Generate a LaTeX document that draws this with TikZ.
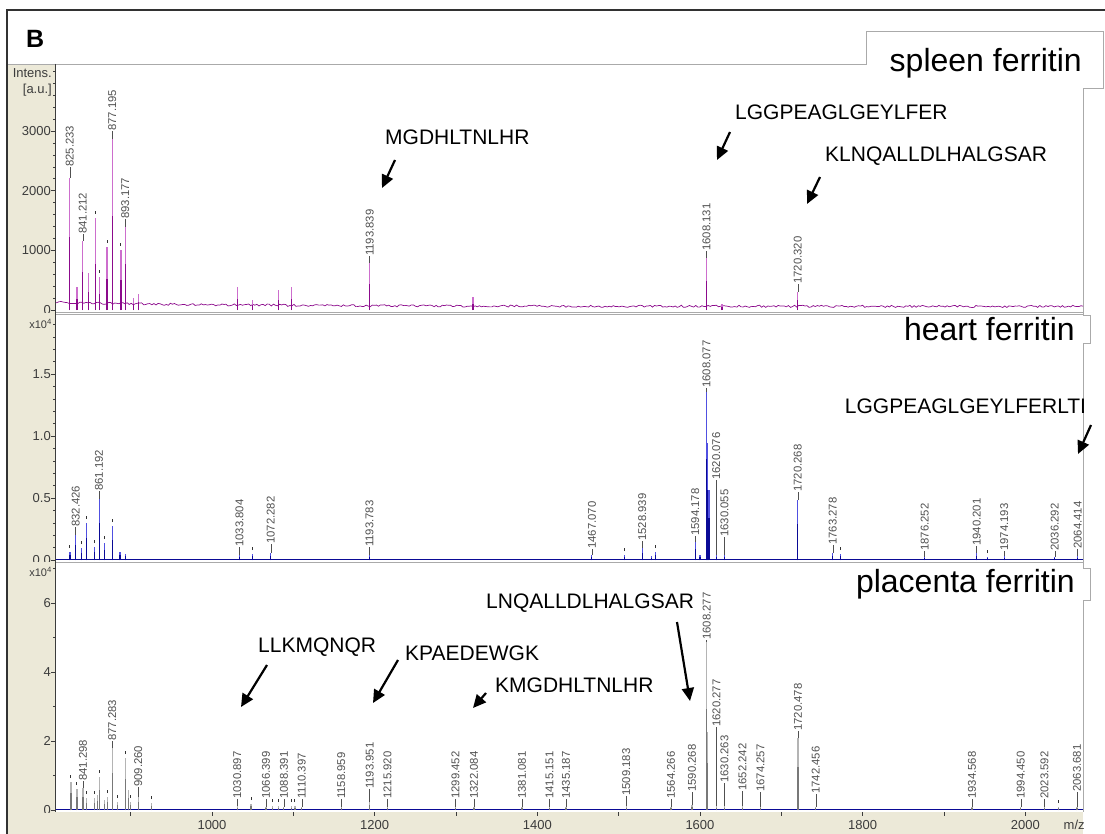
\documentclass[tikz,border=0pt]{standalone}
\usepackage{fontspec}
\setmainfont{Liberation Sans}[Ligatures=TeX]
\usetikzlibrary{arrows.meta}

\definecolor{gutter}{RGB}{236,233,216}
\definecolor{framegray}{RGB}{50,50,50}
\definecolor{tabgray}{RGB}{170,170,170}
\definecolor{axgray}{RGB}{60,60,60}
\definecolor{labgray}{RGB}{80,80,80}
\definecolor{spAdark}{RGB}{140,10,140}
\definecolor{spAlight}{RGB}{205,110,205}
\definecolor{spBdark}{RGB}{10,10,150}
\definecolor{spBlight}{RGB}{80,80,225}
\definecolor{spCdark}{RGB}{120,120,120}
\definecolor{spClight}{RGB}{180,180,180}

\newcommand{\pkfont}{\fontsize{11.3}{12}\selectfont}
\newcommand{\pepfont}{\fontsize{21}{24}\selectfont}
\newcommand{\tabfont}{\fontsize{32}{36}\selectfont}
\newcommand{\axfont}{\fontsize{13}{15}\selectfont}
\newcommand{\panelfont}{\fontsize{25}{28}\selectfont\bfseries}

\tikzset{
  pkline/.style={line width=1.2pt},
  pklab/.style={rotate=90, anchor=west, inner sep=0pt, font=\pkfont, text=labgray},
  leader/.style={labgray, line width=0.5pt},
  pkmark/.style={black!80, line width=1pt},
  pepname/.style={anchor=base west, inner sep=0pt, font=\pepfont},
  peparrow/.style={line width=2.2pt, -{Triangle[width=12pt,length=13pt]}},
  tabname/.style={anchor=base east, inner sep=0pt, font=\tabfont},
  tabline/.style={tabgray, line width=0.8pt},
  axlab/.style={anchor=east, inner sep=0pt, font=\axfont, text=axgray},
  xlab/.style={anchor=center, inner sep=0pt, font=\axfont, text=axgray},
  mz/.style={x=0.8133pt, xshift=-601.3pt}
}

\begin{document}
\begin{tikzpicture}[x=1pt,y=-1pt]
\useasboundingbox (0,0) rectangle (1105,834);
\fill[white] (0,0) rectangle (1105,834);
% gutter, frame and tabs
\fill[gutter] (8,64) rectangle (55,834);
\fill[gutter] (55,812) rectangle (1083,834);
\draw[framegray, line width=2pt] (7,834) -- (7,10) -- (1105,10);
\node[font=\panelfont, anchor=base west, inner sep=0pt] (panelB) at (26,48) {B};
\draw[tabline] (8,64) -- (866,64) -- (866,31) -- (1103,31) -- (1103,88) -- (1083,88) -- (1083,812);
\node[tabname] (spleen) at (1082,72) {spleen ferritin};

% spleen spectrum
\begin{scope}[mz, y=1pt, yshift=-310pt]
\clip (807,0) rectangle (2071,246);
\pgfmathsetseed{7}
\draw[spAdark, line width=0.7pt] plot[domain=807:2071, samples=500, variable=\t] (\t,{2.5+4*exp(-(\t-807)/220)+2.2*rnd});
\foreach \m/\h in {834/23, 848/37, 857/92, 862/33, 871/63, 888/60, 903/12, 910/16, 1031/23, 1050/10, 1082/20, 1098/23, 1321/13, 1627/6}{
  \draw[spAlight, pkline] (\m,0) -- (\m,\h);
  \draw[spAdark, pkline] (\m,0) -- (\m,{0.5*\h});
}
\foreach \m/\h in {857/92, 862/33, 871/63, 888/60}
  \draw[pkmark] (\m,\h+4) -- (\m,\h+7);
\foreach \m/\h/\lb [count=\i] in {825.233/132/143, 841.212/69/76, 877.195/171/179, 893.177/83/91, 1193.839/47/54, 1608.131/52/59, 1720.320/18/26}{
  \draw[spAlight, pkline] (\m,0) -- (\m,\h);
  \draw[spAdark, pkline] (\m,0) -- (\m,{0.55*\h});
  \draw[leader] (\m,\h) -- (\m,\lb);
  \node[pklab] (spA\i) at (\m,\lb) {\m};
}
\end{scope}

% heart spectrum
\fill[white] (895,315) rectangle (1090,343);
\draw[tabline] (1083,315) -- (1090,315) -- (1090,343) -- (1083,343);
\node[tabname] (heart) at (1075,340) {heart ferritin};
\begin{scope}[mz, y=1pt, yshift=-560pt]
\clip (807,0) rectangle (2071,247);
\draw[spBdark, line width=1.4pt] (807,0.5) -- (2071,0.5);
\foreach \m/\h in {825.4/8, 840/12, 846/37, 856/13, 868/17, 878/34, 887/8, 894/6, 1050/6, 1507/5, 1540/4, 1545/8, 1600/5, 1773/6, 1954/3, 1609.5/117, 1611/70}{
  \draw[spBlight, pkline] (\m,0) -- (\m,\h);
  \draw[spBdark, pkline] (\m,0) -- (\m,{0.6*\h});
}
\foreach \m/\h in {825.4/8, 840/12, 846/37, 856/13, 868/17, 878/34, 1050/6, 1507/5, 1545/8, 1773/6, 1954/3}
  \draw[pkmark] (\m,\h+4) -- (\m,\h+7);
\foreach \m/\h/\lb [count=\i] in {832.426/25/33, 861.192/61/69, 1033.804/5/13, 1072.282/7/16, 1193.783/5/13, 1467.070/5/11, 1528.939/12/19, 1594.178/18/24, 1608.077/168/172, 1620.076/5/80, 1630.055/5/23, 1720.268/60/68, 1763.278/7/15, 1876.252/3/9, 1940.201/7/14, 1974.193/4/9, 2036.292/3/9, 2064.414/4/11}{
  \draw[spBlight, pkline] (\m,0) -- (\m,\h);
  \draw[spBdark, pkline] (\m,0) -- (\m,{0.6*\h});
  \draw[leader] (\m,\h) -- (\m,\lb);
  \node[pklab] (spB\i) at (\m,\lb) {\m};
}
\node[pepname] (lggpk) at (1778,147) {LGGPEAGLGEYLFERLTLK};
\end{scope}

% placenta spectrum
\fill[white] (845,568) rectangle (1090,600);
\draw[tabline] (1083,568) -- (1090,568) -- (1090,600) -- (1083,600);
\node[tabname] (placenta) at (1075,592) {placenta ferritin};
\begin{scope}[mz, y=1pt, yshift=-810pt]
\clip (807,0) rectangle (2071,248);
\draw[spBdark, line width=1.4pt] (807,0.5) -- (2071,0.5);
\draw[spBdark, line width=1.4pt] (807.8,0) -- (807.8,187);
\foreach \m/\h in {826.6/28, 834/21, 846/12, 856/12, 859/15, 862/33, 868/10, 872/13, 884/8, 894/52, 897/20, 900/8, 926/7, 1048/6, 1074/4, 1082/4, 1098/4, 1102/4, 2041/3, 1609.5/78, 1721.5/30}{
  \draw[spClight, pkline] (\m,0) -- (\m,\h);
  \draw[spCdark, pkline] (\m,0) -- (\m,{0.6*\h});
}
\foreach \m/\h in {826.6/28, 834/21, 846/12, 856/12, 862/33, 872/13, 884/8, 894/52, 900/8, 926/7, 1048/6, 1074/4, 1082/4, 1098/4, 1102/4, 2041/3}
  \draw[pkmark] (\m,\h+4) -- (\m,\h+7);
\foreach \m/\h/\lb [count=\i] in {841.298/22/29, 877.283/62/69, 909.260/13/23, 1030.897/4/11, 1066.399/3/11, 1088.391/3/11, 1110.397/3/11, 1158.959/3/11, 1193.951/8/21, 1215.920/3/11, 1299.452/3/11, 1322.084/3/11, 1381.081/3/11, 1415.151/3/11, 1435.187/3/11, 1509.183/4/14, 1564.266/3/11, 1590.268/5/18, 1608.277/168/170, 1620.277/4/83, 1630.263/4/27, 1652.242/4/19, 1674.257/3/18, 1720.478/72/79, 1742.456/3/16, 1934.568/3/11, 1994.450/3/11, 2023.592/3/11, 2063.681/3/18}{
  \draw[spClight, pkline] (\m,0) -- (\m,\h);
  \draw[spCdark, pkline] (\m,0) -- (\m,{0.6*\h});
  \draw[leader] (\m,\h) -- (\m,\lb);
  \node[pklab] (spC\i) at (\m,\lb) {\m};
}
\end{scope}

% panel separators
\draw[tabgray, line width=1pt] (55,312) -- (1083,312);
\draw[tabgray, line width=1pt] (55,314.5) -- (1083,314.5);
\draw[tabgray, line width=1pt] (55,562.5) -- (1083,562.5);

% peptide annotations
\node[pepname] (mgd) at (385,145) {MGDHLTNLHR};
\coordinate (mgd-s) at (395,160); \coordinate (mgd-e) at (382,188);
\draw[peparrow] (mgd-s) -- (mgd-e);
\node[pepname] (lgg) at (735,120) {LGGPEAGLGEYLFER};
\coordinate (lgg-s) at (730,132); \coordinate (lgg-e) at (717,160);
\draw[peparrow] (lgg-s) -- (lgg-e);
\node[pepname] (kln) at (825,162) {KLNQALLDLHALGSAR};
\coordinate (kln-s) at (820,177); \coordinate (kln-e) at (807,204);
\draw[peparrow] (kln-s) -- (kln-e);
\coordinate (lggpk-s) at (1091,425); \coordinate (lggpk-e) at (1078,454);
\draw[peparrow] (lggpk-s) -- (lggpk-e);
\node[pepname] (llk) at (258,652) {LLKMQNQR};
\coordinate (llk-s) at (267,665); \coordinate (llk-e) at (241,707);
\draw[peparrow] (llk-s) -- (llk-e);
\node[pepname] (kpa) at (405,660) {KPAEDEWGK};
\coordinate (kpa-s) at (398,660); \coordinate (kpa-e) at (373,703);
\draw[peparrow] (kpa-s) -- (kpa-e);
\node[pepname] (kmg) at (495,692) {KMGDHLTNLHR};
\coordinate (kmg-s) at (486,693); \coordinate (kmg-e) at (473,708);
\draw[peparrow] (kmg-s) -- (kmg-e);
\node[pepname] (lnq) at (486,608) {LNQALLDLHALGSAR};
\coordinate (lnq-s) at (677,622); \coordinate (lnq-e) at (690,701);
\draw[peparrow] (lnq-s) -- (lnq-e);

% intensity axes
\draw[axgray, line width=0.8pt] (55,64) -- (55,812);
\begin{scope}
\clip (8,64) rectangle (60,312);
\foreach \k in {0,...,20} \draw[axgray] (55,310-\k*11.94) -- ++(-2,0);
\foreach \v/\lab [count=\i] in {0/0,1/1000,2/2000,3/3000}{
  \draw[axgray] (55,310-\v*59.7) -- ++(-4,0);
  \node[axlab] (ya\i) at (51,310-\v*59.7) {\lab};
}
\node[axlab] (intens) at (52,73) {Intens.};
\node[axlab] (au) at (52,90) {[a.u.]};
\end{scope}
\begin{scope}
\clip (8,313) rectangle (60,561);
\foreach \k in {0,...,19} \draw[axgray] (55,560-\k*12.4) -- ++(-2,0);
\foreach \v/\lab [count=\i] in {0/0.0,1/0.5,2/1.0,3/1.5}{
  \draw[axgray] (55,560-\v*62) -- ++(-4,0);
  \node[axlab] (yb\i) at (51,560-\v*62) {\lab};
}
\node[axlab, font=\fontsize{11}{12}\selectfont] (xb) at (52,324) {x10\textsuperscript{4}};
\end{scope}
\begin{scope}
\clip (8,562) rectangle (60,812);
\foreach \k in {0,...,7} \draw[axgray] (55,810-\k*34.5) -- ++(-2,0);
\foreach \v/\lab [count=\i] in {0/0,1/2,2/4,3/6}{
  \draw[axgray] (55,810-\v*69) -- ++(-4,0);
  \node[axlab] (yc\i) at (51,810-\v*69) {\lab};
}
\node[axlab, font=\fontsize{11}{12}\selectfont] (xc) at (52,572) {x10\textsuperscript{4}};
\end{scope}

% m/z axis
\begin{scope}[mz]
\clip (807,811) rectangle (2071,834);
\foreach \m in {900,1000,...,2000} \draw[axgray] (\m,812) -- (\m,816);
\foreach \m [count=\i] in {1000,1200,...,2000} \node[xlab] (xt\i) at (\m,825) {\m};
\node[xlab, anchor=west] (mzlab) at (2047,825) {m/z};
\end{scope}
\end{tikzpicture}
\end{document}
